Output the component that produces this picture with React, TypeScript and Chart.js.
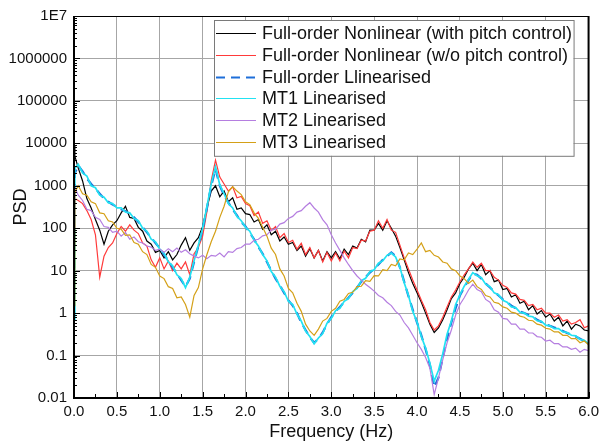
import React, { useEffect, useRef } from 'react';
import { Chart, registerables } from 'chart.js';

Chart.register(...registerables);

// Frequency grid (Hz): DC, 0.01, then every 0.05 Hz up to 6.0
const FREQ: number[] = [0, 0.01, ...Array.from({ length: 120 }, (_, i) => +((i + 1) * 0.05).toFixed(2))];

const SERIES_NAMES = [
  'Full-order Nonlinear (with pitch control)',
  'Full-order Nonlinear (w/o pitch control)',
  'Full-order Llinearised',
  'MT1 Linearised',
  'MT2 Linearised',
  'MT3 Linearised',
];

const NONLIN_PITCH = [
  9000, 5000,
  2600, 1300, 500, 300, 160, 90, 42, 85, 120, 150,
  230, 330, 180, 170, 105, 85, 50, 42, 27, 30,
  20, 28, 18, 24, 40, 60, 30, 45, 60, 110,
  300, 750, 1000, 550, 750, 420, 520, 280, 300, 220,
  210, 140, 160, 95, 120, 70, 85, 50, 62, 42,
  46, 30, 38, 22, 33, 20, 30, 17, 28, 20,
  28, 19, 32, 24, 38, 34, 55, 48, 90, 90,
  130, 90, 150, 100, 65, 35, 18, 9, 5, 3,
  1.8, 1.0, 0.55, 0.35, 0.45, 0.7, 1.2, 2.2, 3, 5,
  7, 11, 15, 10, 14, 8, 10, 5.5, 6, 3.6,
  3.8, 2.4, 2.7, 1.7, 1.9, 1.2, 1.5, 0.95, 1.15, 0.8,
  0.95, 0.65, 0.8, 0.5, 0.65, 0.42, 0.55, 0.5, 0.4, 0.38,
];

const NONLIN_NOPITCH = [
  40, 500,
  450, 380, 260, 160, 70, 7, 22, 35, 45, 75,
  110, 85, 120, 90, 75, 45, 38, 18, 12, 20,
  11, 17, 10, 15, 11, 16, 8, 25, 35, 65,
  250, 1300, 4000, 1600, 1100, 750, 950, 520, 560, 380,
  340, 200, 240, 130, 150, 88, 110, 60, 75, 46,
  52, 32, 44, 24, 35, 20, 30, 16, 27, 17,
  26, 17, 29, 20, 35, 33, 52, 50, 85, 90,
  150, 100, 160, 90, 80, 40, 20, 11, 6, 3.5,
  2.0, 1.2, 0.6, 0.4, 0.5, 0.8, 1.4, 2.4, 3.5, 5.5,
  8, 11, 16, 12, 15, 10, 10, 7, 6, 4.5,
  4, 3, 2.8, 2.1, 2, 1.5, 1.6, 1.2, 1.3, 1.0,
  1.0, 0.8, 0.9, 0.65, 0.7, 0.55, 0.6, 0.7, 0.45, 0.5,
];

const FULL_LIN = [
  1, 2000,
  3000, 2200, 1500, 1100, 850, 650, 500, 420, 360, 320,
  280, 250, 220, 180, 140, 105, 80, 60, 45, 34,
  24, 17, 12, 8.5, 6, 4.2, 6.5, 16, 38, 95,
  300, 1000, 2500, 1000, 600, 400, 280, 200, 140, 110,
  78, 55, 36, 25, 16, 10, 6.5, 4.5, 3, 2,
  1.5, 1, 0.6, 0.4, 0.27, 0.2, 0.25, 0.35, 0.55, 0.8,
  1.1, 1.4, 1.8, 2.3, 3, 4, 5.5, 7, 9, 11,
  14, 18, 22, 27, 22, 12, 5.5, 2.5, 1.2, 0.6,
  0.3, 0.14, 0.06, 0.018, 0.03, 0.09, 0.25, 0.6, 1.3, 2.6,
  4, 6, 8.5, 8, 6.5, 5, 4, 3.2, 2.6, 2.1,
  1.8, 1.5, 1.3, 1.1, 1.0, 0.9, 0.8, 0.7, 0.62, 0.55,
  0.5, 0.46, 0.42, 0.38, 0.34, 0.31, 0.28, 0.25, 0.22, 0.2,
];

const MT1_LIN = [
  0.7, 2600,
  3200, 2000, 1700, 1000, 900, 600, 540, 400, 380, 300,
  300, 240, 230, 170, 150, 100, 85, 55, 48, 32,
  26, 16, 13, 8, 6.5, 4, 7, 17, 40, 100,
  320, 1100, 2800, 1050, 650, 380, 300, 190, 150, 105,
  85, 52, 38, 24, 17, 9.5, 7, 4.3, 3.2, 1.9,
  1.6, 0.95, 0.65, 0.38, 0.28, 0.19, 0.26, 0.33, 0.58, 0.75,
  1.15, 1.3, 1.9, 2.2, 3.2, 3.8, 5.8, 6.6, 9.5, 10.5,
  15, 17, 23, 26, 21, 12, 5.2, 2.6, 1.1, 0.62,
  0.28, 0.15, 0.065, 0.025, 0.045, 0.11, 0.32, 0.65, 1.6, 2.7,
  4.3, 6.2, 9, 7.6, 6.8, 4.8, 4.2, 3.0, 2.7, 2.0,
  1.8, 1.4, 1.35, 1.05, 1.0, 0.85, 0.82, 0.66, 0.64, 0.52,
  0.5, 0.43, 0.43, 0.36, 0.35, 0.3, 0.29, 0.24, 0.23, 0.19,
];

const MT2_LIN = [
  100, 900,
  600, 450, 280, 260, 180, 160, 110, 105, 80, 85,
  65, 80, 55, 62, 48, 45, 38, 36, 30, 32,
  27, 33, 28, 34, 27, 31, 25, 22, 20, 23,
  19, 23, 22, 26, 21, 28, 27, 33, 35, 42,
  42, 52, 55, 66, 70, 90, 95, 125, 135, 170,
  190, 240, 260, 330, 400, 300, 240, 160, 120, 70,
  45, 30, 20, 14, 10, 7.5, 6, 4.8, 4, 3.3,
  2.6, 2.3, 1.8, 1.5, 1.1, 0.9, 0.6, 0.45, 0.3, 0.2,
  0.14, 0.09, 0.05, 0.012, 0.03, 0.08, 0.2, 0.4, 0.9, 1.6,
  2.3, 3.5, 4.8, 3.6, 3.2, 2.1, 1.8, 1.2, 1.05, 0.75,
  0.72, 0.55, 0.55, 0.42, 0.42, 0.34, 0.34, 0.28, 0.27, 0.22,
  0.23, 0.19, 0.19, 0.16, 0.16, 0.14, 0.15, 0.12, 0.14, 0.13,
];

const MT3_LIN = [
  1.5, 700,
  1000, 650, 600, 420, 380, 230, 220, 150, 140, 100,
  95, 68, 70, 46, 42, 28, 24, 14, 12, 7.5,
  6.5, 4.2, 3.8, 2.3, 2.4, 1.6, 0.8, 2.6, 4, 11,
  24, 48, 85, 180, 330, 720, 950, 750, 620, 420,
  360, 230, 170, 105, 65, 34, 24, 11, 7.5, 3.8,
  3, 1.7, 1.1, 0.55, 0.38, 0.3, 0.42, 0.65, 0.75, 1.1,
  1.3, 1.9, 2.1, 2.9, 3.1, 4.2, 4.3, 5.8, 5.6, 7.6,
  7.5, 10.5, 10, 14, 13, 19, 18, 26, 24, 32,
  45, 28, 30, 23, 21, 16, 15, 11, 10, 7.5,
  6.5, 5, 6, 4.2, 3.6, 2.6, 2.4, 1.8, 1.7, 1.4,
  1.3, 1.05, 1.0, 0.85, 0.8, 0.68, 0.66, 0.55, 0.52, 0.44,
  0.42, 0.36, 0.36, 0.3, 0.3, 0.25, 0.25, 0.2, 0.22, 0.18,
];

const Y_TICKS = [0.01, 0.1, 1, 10, 100, 1000, 10000, 100000, 1000000, 10000000];
const Y_TICK_LABELS = ['0.01', '0.1', '1', '10', '100', '1000', '10000', '100000', '1000000', '1E7'];
const X_TICKS = [0, 0.5, 1, 1.5, 2, 2.5, 3, 3.5, 4, 4.5, 5, 5.5, 6];
const X_TICK_LABELS = ['0.0', '0.5', '1.0', '1.5', '2.0', '2.5', '3.0', '3.5', '4.0', '4.5', '5.0', '5.5', '6.0'];

const FONT = '"Liberation Sans", Arial, Helvetica, sans-serif';

const STYLES = [
  { color: '#000000', width: 1.2, dash: [] as number[], order: 6 },
  { color: '#FF3A3A', width: 1.2, dash: [] as number[], order: 5 },
  { color: '#1E6FD9', width: 2.2, dash: [9, 6], order: 4 },
  { color: '#22E2F2', width: 1.7, dash: [] as number[], order: 3 },
  { color: '#B57EE0', width: 1.2, dash: [] as number[], order: 2 },
  { color: '#D4A017', width: 1.2, dash: [] as number[], order: 1 },
];

const SERIES = [NONLIN_PITCH, NONLIN_NOPITCH, FULL_LIN, MT1_LIN, MT2_LIN, MT3_LIN];

const framePlugin = {
  id: 'frameTicks',
  afterDatasetsDraw(chart: any) {
    const { ctx, chartArea, scales } = chart;
    const { left, right, top, bottom } = chartArea;
    const xs = scales.x;
    const ys = scales.y;
    ctx.save();
    ctx.strokeStyle = '#000';
    ctx.lineWidth = 1;
    for (let i = 0; i < X_TICKS.length; i++) {
      const px = Math.round(xs.getPixelForValue(X_TICKS[i])) + 0.5;
      ctx.beginPath();
      ctx.moveTo(px, bottom);
      ctx.lineTo(px, bottom - 6);
      ctx.stroke();
      if (i < X_TICKS.length - 1) {
        const mx = Math.round(xs.getPixelForValue((X_TICKS[i] + X_TICKS[i + 1]) / 2)) + 0.5;
        ctx.beginPath();
        ctx.moveTo(mx, bottom);
        ctx.lineTo(mx, bottom - 4);
        ctx.stroke();
      }
    }
    for (let i = 0; i < Y_TICKS.length; i++) {
      const py = Math.round(ys.getPixelForValue(Y_TICKS[i])) + 0.5;
      ctx.beginPath();
      ctx.moveTo(left, py);
      ctx.lineTo(left + 6, py);
      ctx.stroke();
      if (i < Y_TICKS.length - 1) {
        for (let m = 2; m <= 9; m++) {
          const my = Math.round(ys.getPixelForValue(Y_TICKS[i] * m)) + 0.5;
          ctx.beginPath();
          ctx.moveTo(left, my);
          ctx.lineTo(left + 3, my);
          ctx.stroke();
        }
      }
    }
    ctx.lineWidth = 1;
    ctx.beginPath();
    ctx.moveTo(left, top + 0.5);
    ctx.lineTo(right, top + 0.5);
    ctx.stroke();
    ctx.lineWidth = 2;
    ctx.beginPath();
    ctx.moveTo(left, top);
    ctx.lineTo(left, bottom);
    ctx.lineTo(right, bottom);
    ctx.lineTo(right, top);
    ctx.stroke();
    ctx.restore();
  },
};

const legendPlugin = {
  id: 'boxLegend',
  afterDraw(chart: any) {
    const { ctx, chartArea } = chart;
    const bx = chartArea.left + 140;
    const by = chartArea.top + 4;
    const bw = chartArea.right - 15 - bx;
    const rowH = 21.8;
    const bh = rowH * SERIES_NAMES.length + 5;
    ctx.save();
    ctx.fillStyle = '#ffffff';
    ctx.fillRect(bx, by, bw, bh);
    ctx.strokeStyle = '#7a7a7a';
    ctx.lineWidth = 1;
    ctx.strokeRect(bx + 0.5, by + 0.5, bw, bh);
    ctx.font = `18px ${FONT}`;
    ctx.textBaseline = 'middle';
    ctx.textAlign = 'left';
    SERIES_NAMES.forEach((name, i) => {
      const cy = by + 13 + i * rowH;
      const st = STYLES[i];
      ctx.strokeStyle = st.color;
      ctx.lineWidth = st.dash.length ? 2 : 1;
      ctx.setLineDash(st.dash);
      ctx.beginPath();
      ctx.moveTo(bx + 2, Math.round(cy) + 0.5);
      ctx.lineTo(bx + 42, Math.round(cy) + 0.5);
      ctx.stroke();
      ctx.setLineDash([]);
      ctx.fillStyle = '#111';
      ctx.fillText(name, bx + 48, cy + 1);
    });
    ctx.restore();
  },
};

export default function App() {
  const ref = useRef<HTMLCanvasElement | null>(null);

  useEffect(() => {
    if (!ref.current) return;
    const chart = new Chart(ref.current, {
      type: 'line',
      data: {
        datasets: SERIES.map((vals, i) => ({
          label: SERIES_NAMES[i],
          data: FREQ.map((f, k) => ({ x: f, y: vals[k] })),
          borderColor: STYLES[i].color,
          backgroundColor: STYLES[i].color,
          borderWidth: STYLES[i].width,
          borderDash: STYLES[i].dash,
          pointRadius: 0,
          fill: false,
          tension: 0,
          order: STYLES[i].order,
        })),
      },
      options: {
        animation: false,
        responsive: false,
        devicePixelRatio: 1,
        layout: { padding: { top: 12, right: 12, left: 0, bottom: 0 } },
        plugins: { legend: { display: false }, tooltip: { enabled: false } },
        scales: {
          x: {
            type: 'linear',
            min: 0,
            max: 6,
            afterBuildTicks: (s: any) => {
              s.ticks = X_TICKS.map((v) => ({ value: v }));
            },
            afterFit: (s: any) => {
              s.height = 49;
            },
            ticks: {
              callback: (v: any) => X_TICK_LABELS[X_TICKS.indexOf(Number(v))] ?? '',
              font: { size: 15, family: FONT },
              color: '#111',
              padding: 5,
              maxRotation: 0,
              autoSkip: false,
            },
            grid: { color: '#A6A6A6', lineWidth: 1, drawTicks: false },
            border: { display: false },
            title: {
              display: true,
              text: 'Frequency (Hz)',
              font: { size: 18, family: FONT },
              color: '#111',
              padding: { top: 0, bottom: 4 },
            },
          },
          y: {
            type: 'logarithmic',
            min: 0.01,
            max: 10000000,
            afterBuildTicks: (s: any) => {
              s.ticks = Y_TICKS.map((v) => ({ value: v }));
            },
            afterFit: (s: any) => {
              s.width = 74;
            },
            ticks: {
              callback: (v: any) => Y_TICK_LABELS[Y_TICKS.indexOf(Number(v))] ?? '',
              font: { size: 15, family: FONT },
              color: '#111',
              padding: 7,
              autoSkip: false,
            },
            grid: { color: '#A6A6A6', lineWidth: 1, drawTicks: false },
            border: { display: false },
            title: {
              display: true,
              text: 'PSD',
              font: { size: 18, family: FONT },
              color: '#111',
              padding: { top: 10, bottom: 0 },
            },
          },
        },
      },
      plugins: [framePlugin, legendPlugin],
    } as any);
    return () => chart.destroy();
  }, []);

  return (
    <div style={{ position: 'fixed', left: 0, top: 0, width: 604, height: 447, background: '#fff' }}>
      <canvas ref={ref} width={604} height={447} style={{ display: 'block', width: 604, height: 447 }} />
    </div>
  );
}
